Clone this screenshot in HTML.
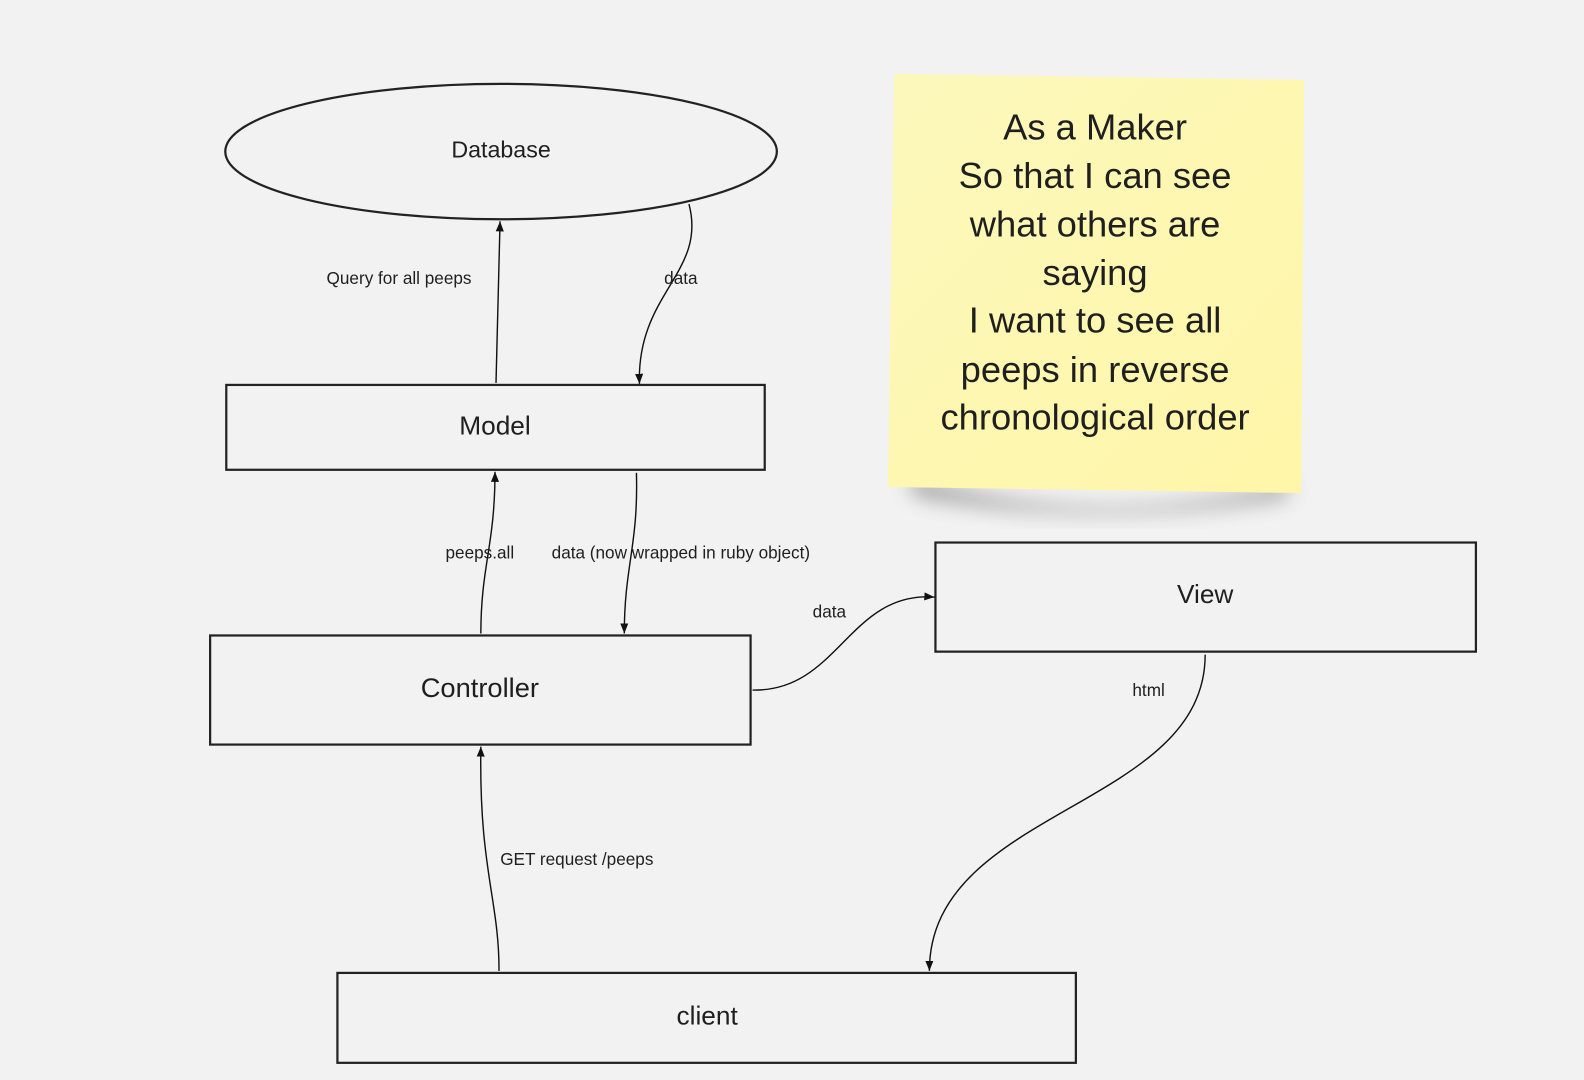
<!DOCTYPE html>
<html><head><meta charset="utf-8"><style>
html,body{margin:0;padding:0;background:#f2f2f2;}
svg{display:block;}
text{font-family:"Liberation Sans","DejaVu Sans",sans-serif;fill:#1f1f1f;}
</style></head><body>
<svg width="1584" height="1080" viewBox="0 0 1568 1069" preserveAspectRatio="none" xmlns="http://www.w3.org/2000/svg">
<defs>
<marker id="a" viewBox="0 0 10 10" refX="10" refY="5" markerWidth="10" markerHeight="10" orient="auto-start-reverse" markerUnits="userSpaceOnUse">
<path d="M0,1 L10,5 L0,9 z" fill="#111"/></marker>
<linearGradient id="y" x1="0" y1="0" x2="1" y2="1"><stop offset="0" stop-color="#fcf8bc"/><stop offset="1" stop-color="#fff6a8"/></linearGradient>
<filter id="sh" x="-20%" y="-20%" width="140%" height="160%"><feGaussianBlur stdDeviation="10"/></filter>
</defs>
<rect width="1568" height="1069" fill="#f2f2f2"/>
<path d="M900,470 Q1080,530 1275,478 L1275,492 Q1080,525 905,490 z" fill="#555" opacity="0.55" filter="url(#sh)"/>
<polygon points="885,73 1291,79 1288,488 879,482" fill="url(#y)"/>
<g font-size="36" text-anchor="middle">
<text x="1084" y="138">As a Maker</text>
<text x="1084" y="186">So that I can see</text>
<text x="1084" y="234">what others are</text>
<text x="1084" y="282">saying</text>
<text x="1084" y="329">I want to see all</text>
<text x="1084" y="378">peeps in reverse</text>
<text x="1084" y="425">chronological order</text>
</g>
<g fill="none" stroke="#222" stroke-width="2.2">
<ellipse cx="496" cy="150" rx="273" ry="67"/>
<rect x="224" y="381" width="533" height="84"/>
<rect x="208" y="629" width="535" height="108"/>
<rect x="926" y="537" width="535" height="108"/>
<rect x="334" y="963" width="731" height="89"/>
</g>
<g text-anchor="middle">
<text x="496" y="156" font-size="23">Database</text>
<text x="490" y="430" font-size="26">Model</text>
<text x="475" y="690" font-size="27">Controller</text>
<text x="1193" y="597" font-size="26">View</text>
<text x="700" y="1014" font-size="26">client</text>
</g>
<g fill="none" stroke="#111" stroke-width="1.4" marker-end="url(#a)">
<path d="M491,379 L495,219"/>
<path d="M682,202 C700,270 630,290 633,380"/>
<path d="M476,627 C476,560 490,540 490,467"/>
<path d="M630,468 C632,540 618,560 618,627"/>
<path d="M745,683 C830,685 840,585 925,591"/>
<path d="M1193,648 C1193,800 920,800 920,961"/>
<path d="M494,961 C494,890 474,860 476,739"/>
</g>
<g font-size="17" text-anchor="middle">
<text x="395" y="281">Query for all peeps</text>
<text x="674" y="281">data</text>
<text x="475" y="553">peeps.all</text>
<text x="674" y="553">data (now wrapped in ruby object)</text>
<text x="821" y="611">data</text>
<text x="1137" y="689">html</text>
<text x="571" y="856">GET request /peeps</text>
</g>
</svg>
</body></html>
